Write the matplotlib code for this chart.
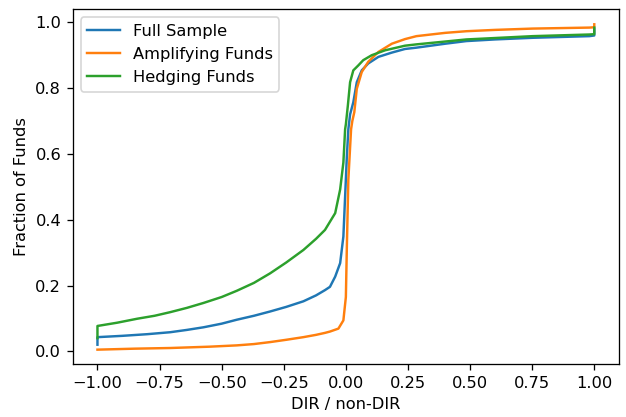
import matplotlib
matplotlib.use("Agg")
import matplotlib.pyplot as plt

# ECDF points
full_x = [-1.0, -1.0, -0.9, -0.8, -0.707, -0.64, -0.573, -0.5, -0.439, -0.37, -0.305,
          -0.24, -0.171, -0.12, -0.084, -0.064, -0.043, -0.023, -0.01, -0.003, 0.004,
          0.01, 0.017, 0.03, 0.044, 0.064, 0.09, 0.131, 0.185, 0.238, 0.284, 0.4,
          0.485, 0.6, 0.752, 0.98, 1.0, 1.0]
full_y = [0.02, 0.043, 0.047, 0.052, 0.058, 0.065, 0.073, 0.084, 0.096, 0.108, 0.121,
          0.135, 0.152, 0.17, 0.186, 0.196, 0.227, 0.268, 0.349, 0.471, 0.593,
          0.675, 0.72, 0.757, 0.818, 0.854, 0.875, 0.895, 0.908, 0.919, 0.923, 0.935,
          0.943, 0.948, 0.953, 0.958, 0.96, 0.98]

amp_x = [-1.0, -0.85, -0.707, -0.55, -0.439, -0.37, -0.305, -0.24, -0.171, -0.12,
         -0.084, -0.064, -0.03, -0.01, 0.0, 0.004, 0.01, 0.021, 0.026, 0.034, 0.044,
         0.064, 0.09, 0.131, 0.185, 0.238, 0.284, 0.4, 0.485, 0.6, 0.752, 0.98,
         1.0, 1.0]
amp_y = [0.005, 0.008, 0.01, 0.014, 0.018, 0.022, 0.028, 0.035, 0.043, 0.05,
         0.056, 0.06, 0.069, 0.094, 0.165, 0.318, 0.522, 0.675, 0.7, 0.727, 0.798,
         0.849, 0.88, 0.91, 0.935, 0.949, 0.958, 0.968, 0.973, 0.977, 0.981, 0.984,
         0.985, 0.994]

hedge_x = [-1.0, -1.0, -0.92, -0.84, -0.77, -0.707, -0.64, -0.573, -0.5, -0.439, -0.37,
           -0.305, -0.24, -0.171, -0.12, -0.084, -0.043, -0.023, -0.01, -0.003, 0.0,
           0.008, 0.017, 0.03, 0.05, 0.07, 0.104, 0.158, 0.238, 0.284, 0.485, 0.752,
           0.98, 1.0, 1.0]
hedge_y = [0.04, 0.077, 0.087, 0.099, 0.108, 0.119, 0.132, 0.147, 0.165, 0.184, 0.208,
           0.237, 0.27, 0.308, 0.342, 0.369, 0.42, 0.492, 0.574, 0.675, 0.69,
           0.747, 0.818, 0.854, 0.869, 0.885, 0.9, 0.915, 0.929, 0.933, 0.948, 0.958,
           0.963, 0.964, 0.984]

dpi = 117
fig, ax = plt.subplots(figsize=(626 / dpi, 417 / dpi), dpi=dpi)
fig.subplots_adjust(left=0.116, right=0.989, top=0.978, bottom=0.126)

ax.plot(full_x, full_y, color="tab:blue", lw=1.5, label="Full Sample")
ax.plot(amp_x, amp_y, color="tab:orange", lw=1.5, label="Amplifying Funds")
ax.plot(hedge_x, hedge_y, color="tab:green", lw=1.5, label="Hedging Funds")

ax.set_xlim(-1.1, 1.1)
ax.set_ylim(-0.04, 1.04)
ax.set_xticks([-1.0, -0.75, -0.5, -0.25, 0.0, 0.25, 0.5, 0.75, 1.0])
ax.set_xlabel("DIR / non-DIR")
ax.set_ylabel("Fraction of Funds")
ax.legend(loc="upper left")

plt.savefig("out.png", dpi=dpi)
plt.close()
